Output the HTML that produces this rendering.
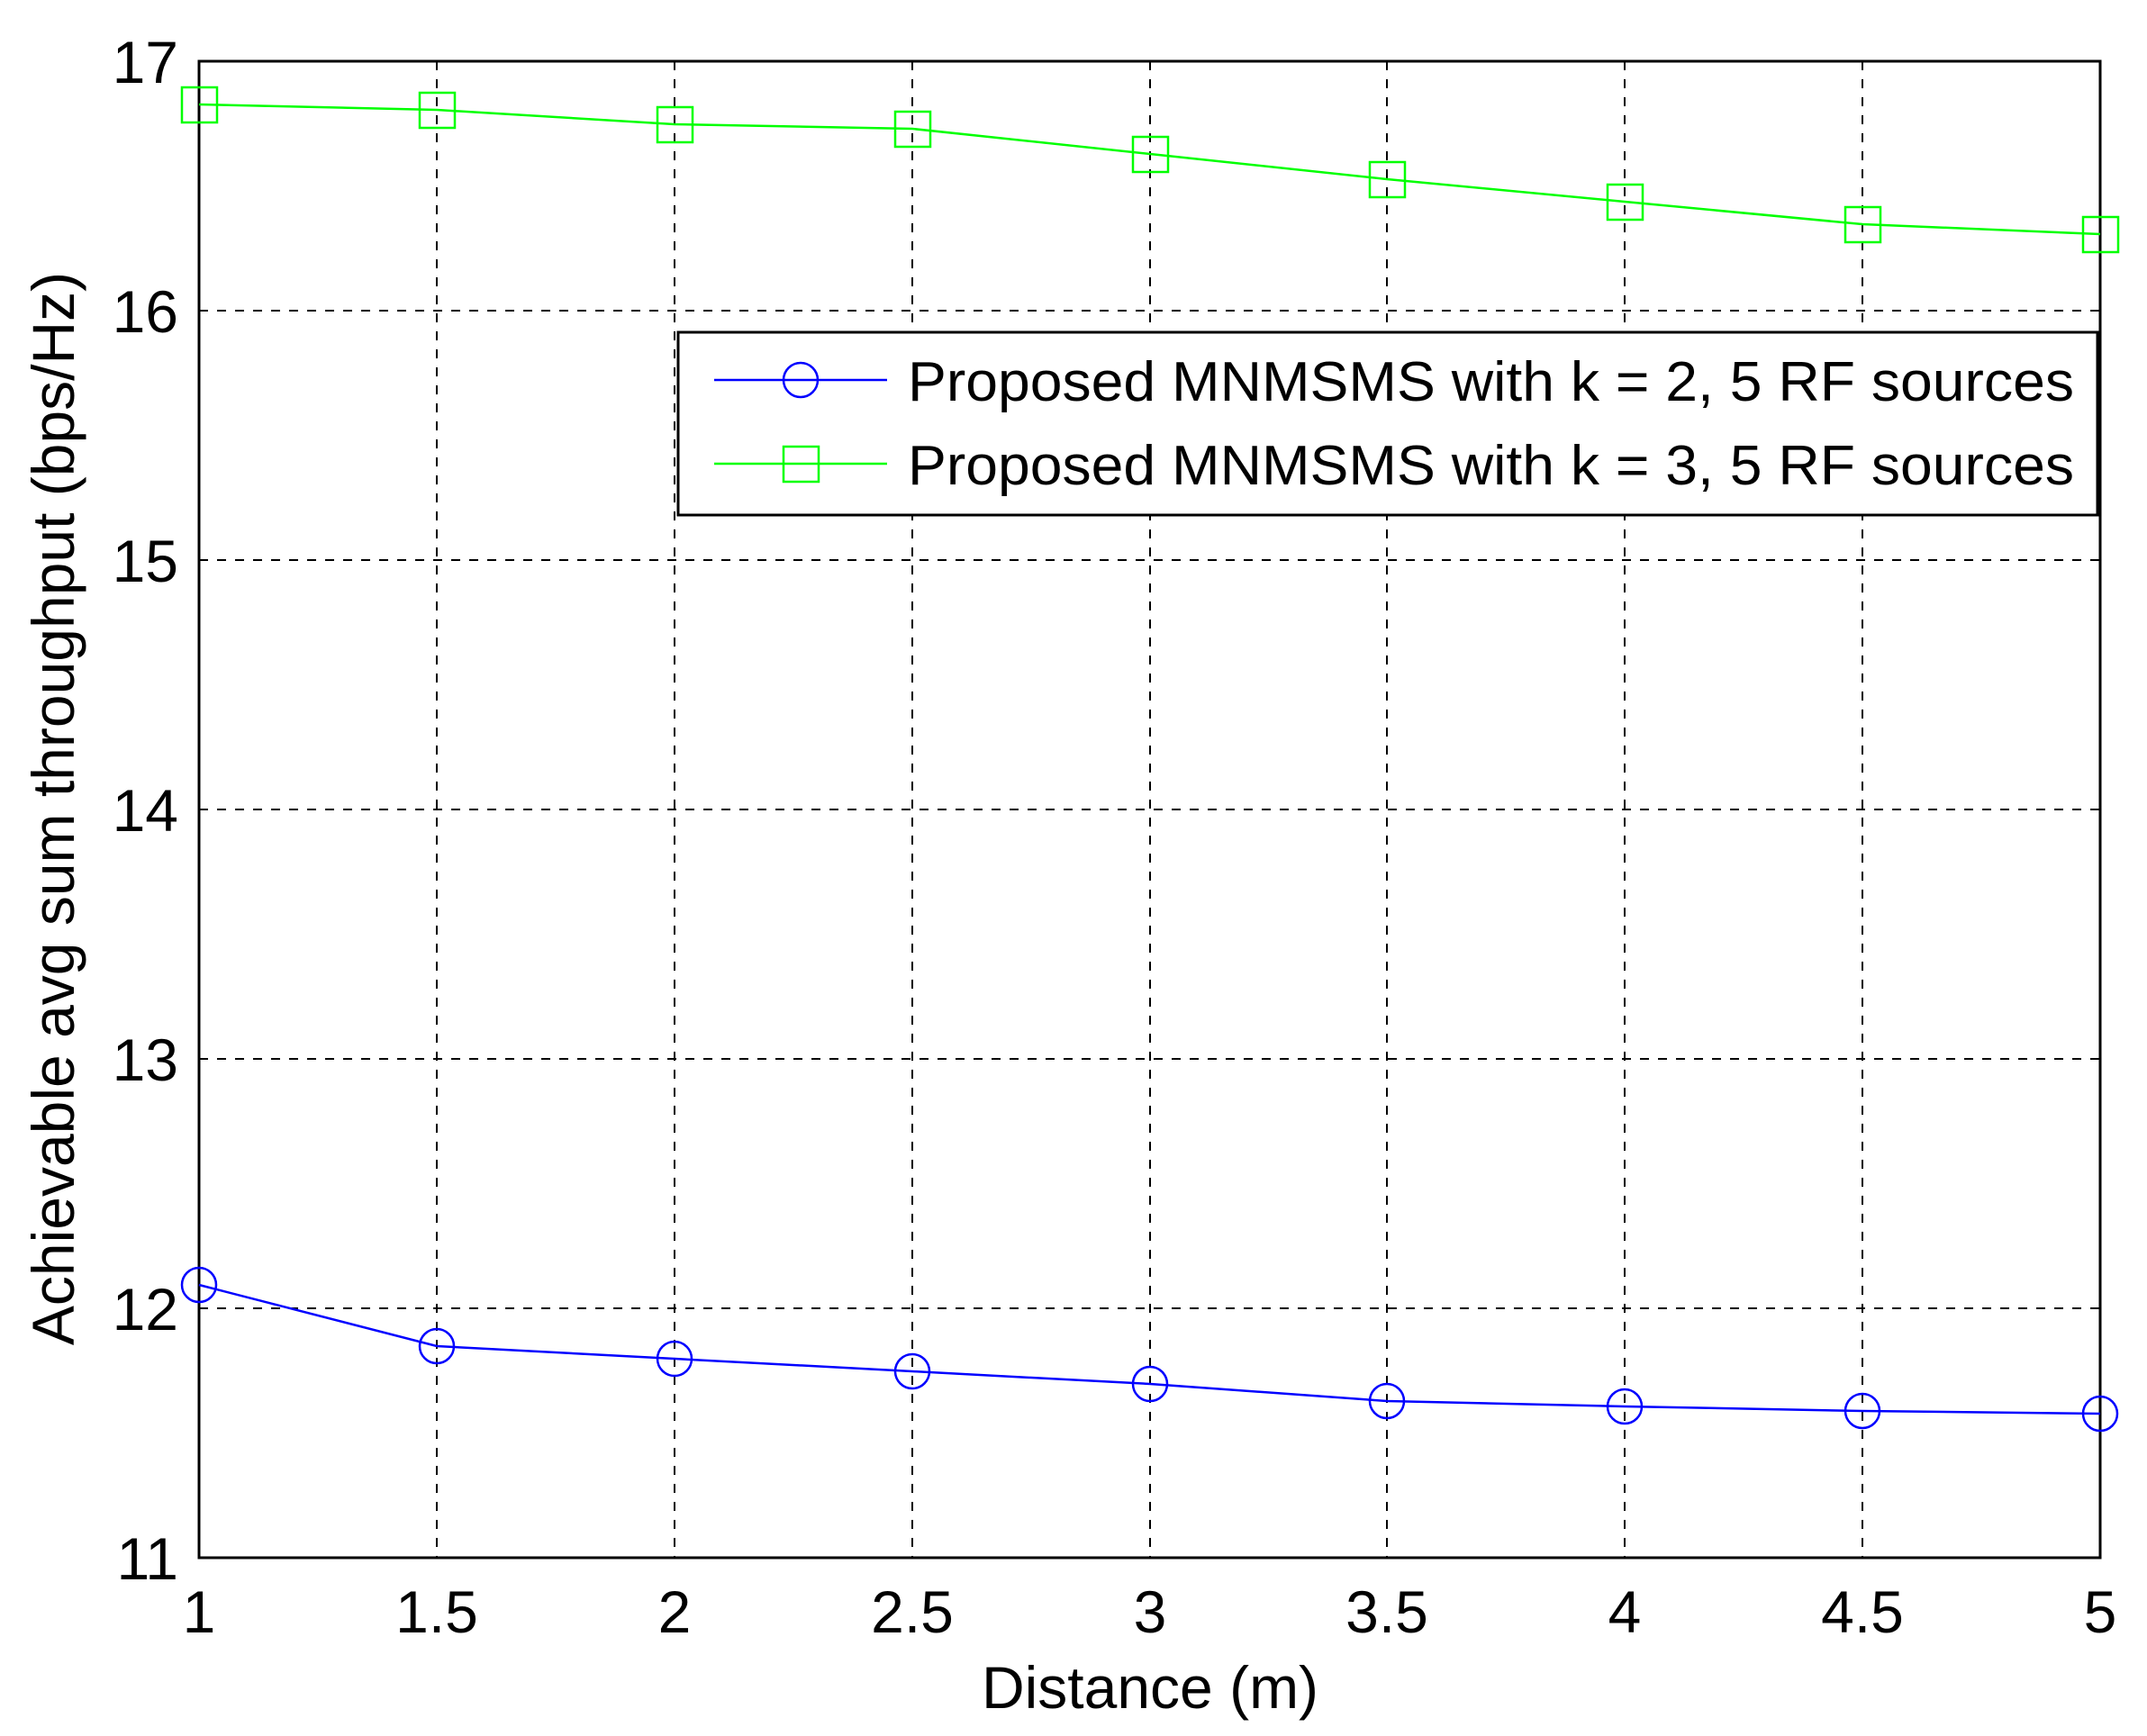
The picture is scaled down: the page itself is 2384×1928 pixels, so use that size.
<!DOCTYPE html>
<html><head><style>body{margin:0;background:#fff}svg{display:block}</style></head>
<body>
<svg width="2384" height="1928" viewBox="0 0 2384 1928" xmlns="http://www.w3.org/2000/svg" font-family="Liberation Sans, Arial, sans-serif">
<rect width="2384" height="1928" fill="#fff"/>
<g stroke="#000" stroke-width="2" stroke-dasharray="10,10">
<line x1="485" y1="68" x2="485" y2="1730"/><line x1="749" y1="68" x2="749" y2="1730"/><line x1="1013" y1="68" x2="1013" y2="1730"/><line x1="1277" y1="68" x2="1277" y2="1730"/><line x1="1540" y1="68" x2="1540" y2="1730"/><line x1="1804" y1="68" x2="1804" y2="1730"/><line x1="2068" y1="68" x2="2068" y2="1730"/>
<line x1="221" y1="345" x2="2332" y2="345"/><line x1="221" y1="622" x2="2332" y2="622"/><line x1="221" y1="899" x2="2332" y2="899"/><line x1="221" y1="1176" x2="2332" y2="1176"/><line x1="221" y1="1453" x2="2332" y2="1453"/>
</g>
<rect x="221" y="68" width="2111" height="1662" fill="none" stroke="#000" stroke-width="3"/>
<polyline fill="none" stroke="#0f0" stroke-width="2.5" points="221,116 485,122 749,138 1013,143 1277,171 1540,199 1804,224 2068,249 2332,260"/>
<g fill="none" stroke="#0f0" stroke-width="2.5">
<rect x="202" y="97" width="39" height="39"/><rect x="466" y="103" width="39" height="39"/><rect x="730" y="119" width="39" height="39"/><rect x="994" y="124" width="39" height="39"/><rect x="1258" y="152" width="39" height="39"/><rect x="1521" y="180" width="39" height="39"/><rect x="1785" y="205" width="39" height="39"/><rect x="2049" y="230" width="39" height="39"/><rect x="2313" y="241" width="39" height="39"/>
</g>
<polyline fill="none" stroke="#00f" stroke-width="2.5" points="221,1427 485,1495 749,1509 1013,1523 1277,1537 1540,1556 1804,1562 2068,1567 2332,1570"/>
<g fill="none" stroke="#00f" stroke-width="2.5">
<circle cx="221" cy="1427" r="19"/><circle cx="485" cy="1495" r="19"/><circle cx="749" cy="1509" r="19"/><circle cx="1013" cy="1523" r="19"/><circle cx="1277" cy="1537" r="19"/><circle cx="1540" cy="1556" r="19"/><circle cx="1804" cy="1562" r="19"/><circle cx="2068" cy="1567" r="19"/><circle cx="2332" cy="1570" r="19"/>
</g>
<rect x="753" y="369" width="1576" height="203" fill="#fff" stroke="#000" stroke-width="3"/>
<line x1="793" y1="422" x2="985" y2="422" stroke="#00f" stroke-width="2.5"/><circle cx="889" cy="422" r="19" fill="none" stroke="#00f" stroke-width="2.5"/>
<line x1="793" y1="515" x2="985" y2="515" stroke="#0f0" stroke-width="2.5"/><rect x="870" y="496" width="39" height="39" fill="none" stroke="#0f0" stroke-width="2.5"/>
<g font-size="62" fill="#000">
<text x="1008" y="445" textLength="1295" lengthAdjust="spacingAndGlyphs">Proposed MNMSMS with k = 2, 5 RF sources</text>
<text x="1008" y="538" textLength="1295" lengthAdjust="spacingAndGlyphs">Proposed MNMSMS with k = 3, 5 RF sources</text>
</g>
<g font-size="66" fill="#000" text-anchor="end">
<text x="198" y="92">17</text><text x="198" y="369">16</text><text x="198" y="646">15</text><text x="198" y="923">14</text><text x="198" y="1200">13</text><text x="198" y="1477">12</text><text x="198" y="1754">11</text>
</g>
<g font-size="66" fill="#000" text-anchor="middle">
<text x="221" y="1813">1</text><text x="485" y="1813">1.5</text><text x="749" y="1813">2</text><text x="1013" y="1813">2.5</text><text x="1277" y="1813">3</text><text x="1540" y="1813">3.5</text><text x="1804" y="1813">4</text><text x="2068" y="1813">4.5</text><text x="2332" y="1813">5</text>
<text x="1277" y="1897">Distance (m)</text>
<text transform="translate(82,898) rotate(-90)">Achievable avg sum throughput (bps/Hz)</text>
</g>
</svg>
</body></html>
